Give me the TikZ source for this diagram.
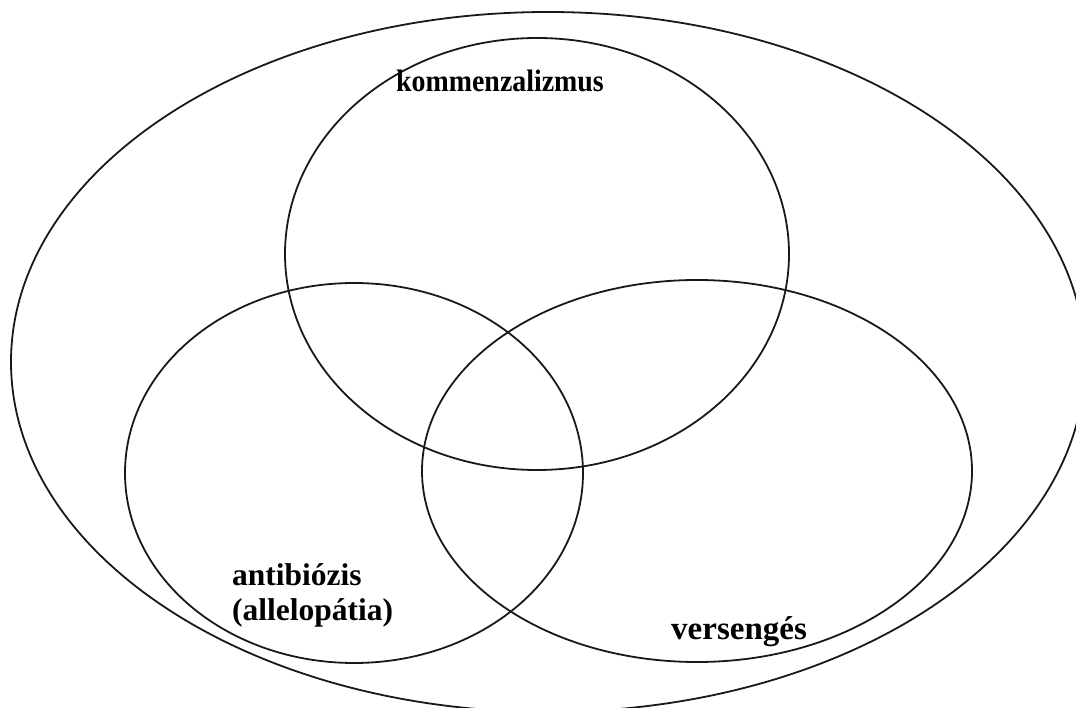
\documentclass[tikz,border=0pt]{standalone}
\usepackage{fontspec}
\setmainfont{Liberation Serif}
\begin{document}
\begin{tikzpicture}[x=1pt,y=-1pt,
  ring/.style={draw=black!90,line width=1.8pt},
  lbl/.style={font=\bfseries,inner sep=0pt}]
\useasboundingbox (0,0) rectangle (1076,708);
\clip (0,0) rectangle (1076,708);
\coordinate (outer) at (548,362);
\coordinate (top) at (537,254);
\coordinate (left) at (354,473);
\coordinate (right) at (697,471);
\draw[ring] (outer) ellipse [x radius=537, y radius=350];
\draw[ring] (top) ellipse [x radius=252, y radius=216];
\draw[ring] (left) ellipse [x radius=229, y radius=190];
\draw[ring] (right) ellipse [x radius=275, y radius=191];
\node[lbl,anchor=base] (komm) at (500,92) {\scalebox{0.9}[1]{\fontsize{31}{36}\selectfont kommenzalizmus}};
\node[lbl,anchor=base west] (anti) at (232,585) {\fontsize{31.5}{36}\selectfont antibiózis};
\node[lbl,anchor=base west] (alle) at (232,620) {\fontsize{31.5}{36}\selectfont (allelopátia)};
\node[lbl,anchor=base west] (vers) at (671,639) {\fontsize{33}{38}\selectfont versengés};
\end{tikzpicture}
\end{document}
